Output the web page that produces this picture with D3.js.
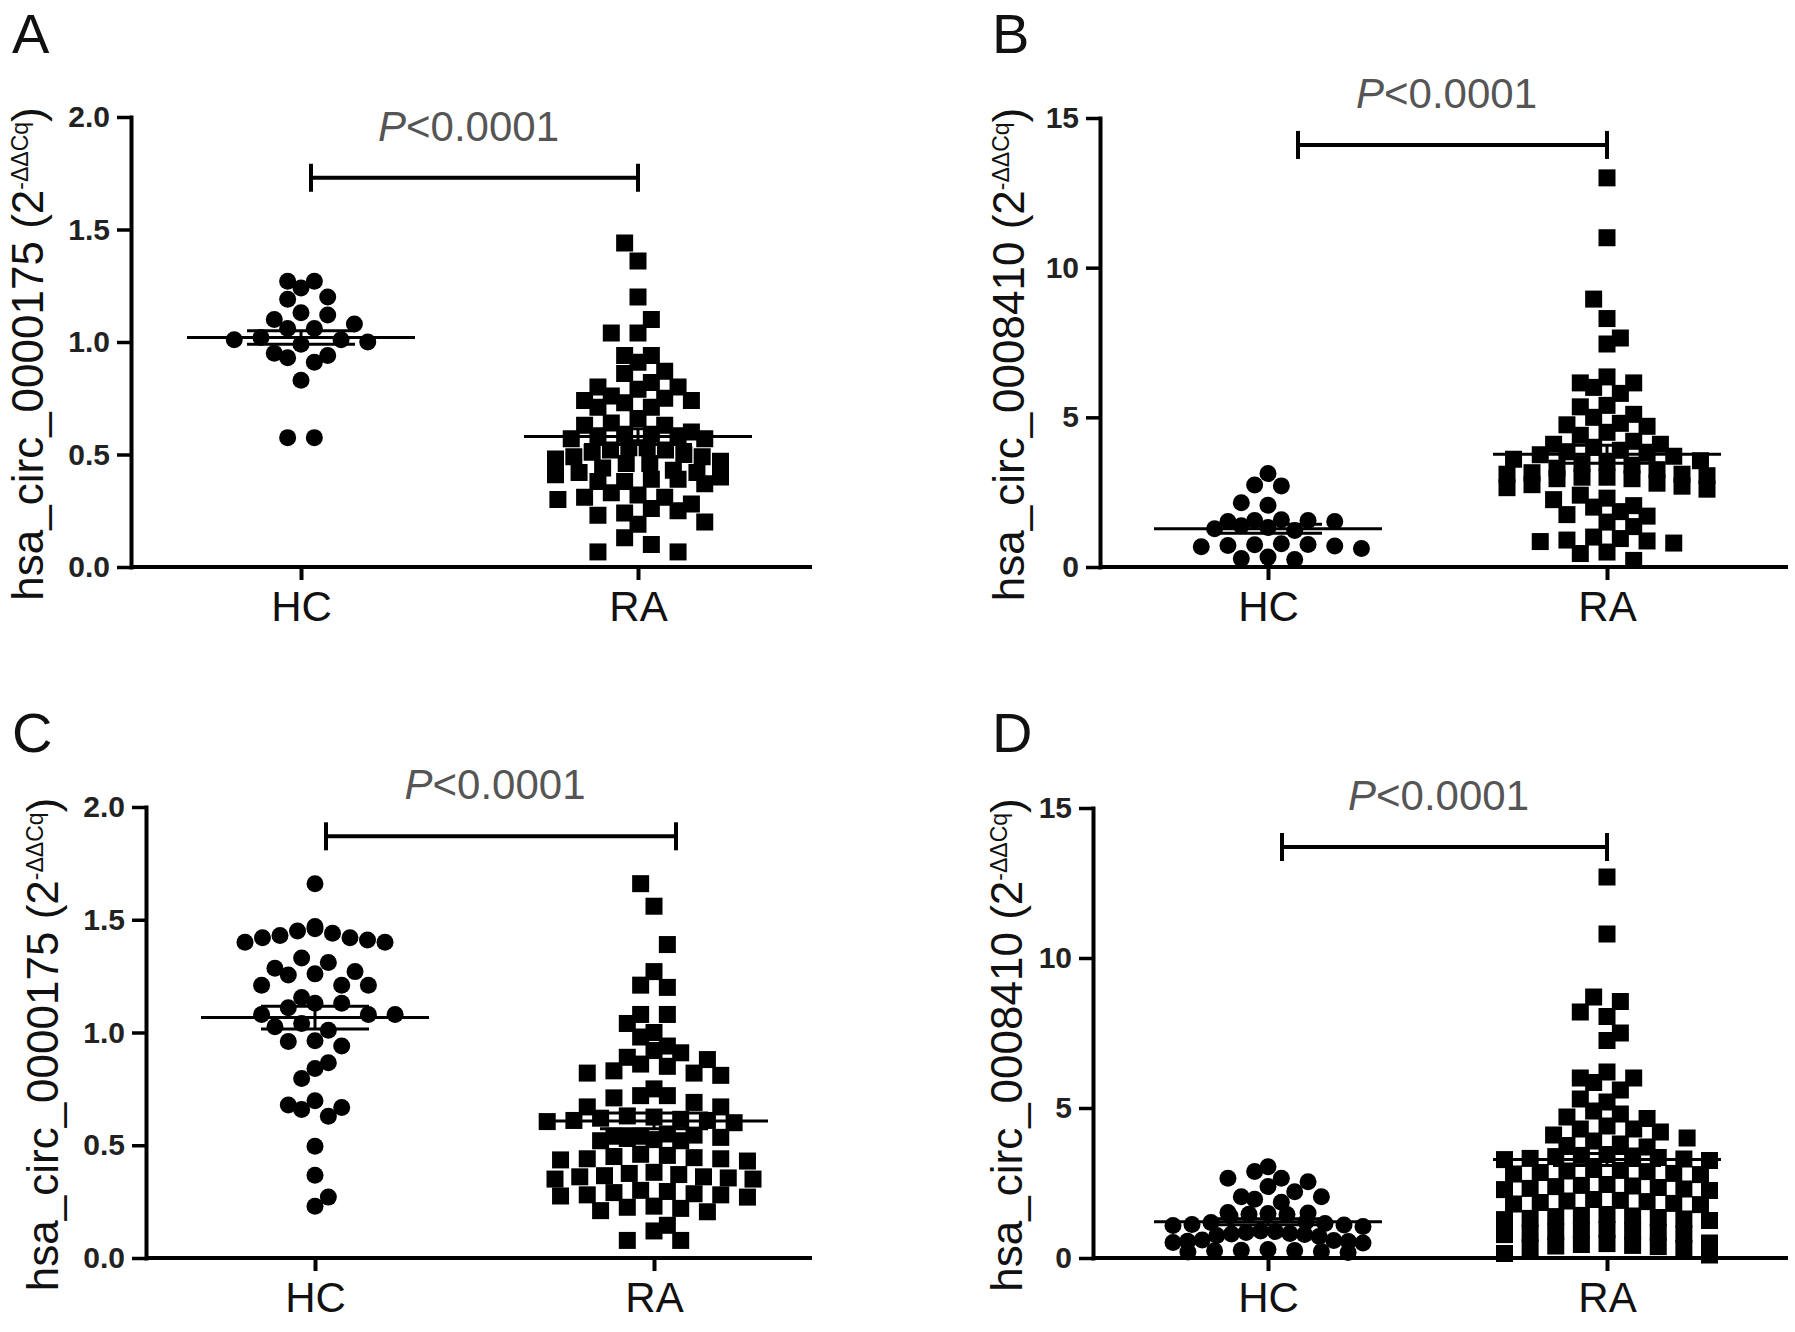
<!DOCTYPE html>
<html>
<head>
<meta charset="utf-8">
<script src="https://cdn.jsdelivr.net/npm/d3@7"></script>
<style>
  body { margin: 0; background: #fff; }
  svg { display: block; }
  text { font-family: "Liberation Sans", Arial, sans-serif; }
</style>
</head>
<body>
<svg id="chart" width="1795" height="1332"></svg>
<script>
// ---------------- data ----------------
const categories = ["HC", "RA"];
const panelLetters = ["A", "B", "C", "D"];
const yTitles = ["hsa_circ_0000175", "hsa_circ_0008410", "hsa_circ_0000175", "hsa_circ_0008410"];
const yTitleSup = "-ΔΔCq";
const pLabelItalic = "P";
const pLabelRest = "<0.0001";
const yDomains = [[0, 2], [0, 15], [0, 2], [0, 15]];
const yTicks = [[0, 0.5, 1.0, 1.5, 2.0], [0, 5, 10, 15], [0, 0.5, 1.0, 1.5, 2.0], [0, 5, 10, 15]];
const yTickFormats = [".1f", "d", ".1f", "d"];

const hcA = [1.27, 1.27, 1.24, 1.20, 1.19, 1.13, 1.12, 1.10, 1.08, 1.06, 1.06, 1.02, 1.01, 1.01, 1.00, 0.99,
  0.95, 0.94, 0.93, 0.91, 0.83, 0.575, 0.575];
const raA = [1.44, 1.36, 1.20, 1.10, 1.04, 1.04, 0.94, 0.94, 0.91, 0.87, 0.86,
  0.82, 0.80, 0.80, 0.79,
  0.76, 0.75, 0.74, 0.74, 0.73, 0.71, 0.71,
  0.66, 0.64, 0.63, 0.63,
  0.60, 0.59, 0.59, 0.58, 0.58, 0.57, 0.57,
  0.53, 0.53, 0.52, 0.52, 0.51, 0.50,
  0.49, 0.49, 0.48, 0.47, 0.46, 0.46,
  0.44, 0.43, 0.42, 0.42, 0.41,
  0.40, 0.39, 0.39, 0.38, 0.38, 0.37,
  0.33, 0.32, 0.31, 0.31, 0.30,
  0.28, 0.26, 0.25, 0.24, 0.23, 0.20, 0.19,
  0.13, 0.10, 0.067, 0.067];

const hcB = [3.12, 2.74, 2.71, 2.15, 2.06, 1.58, 1.55, 1.55, 1.52, 1.52, 1.38, 1.32, 1.28, 1.22,
  0.78, 0.75, 0.74, 0.72, 0.70, 0.68, 0.62, 0.33, 0.28, 0.25];
const raB = [13.0, 11.0, 8.95, 8.3, 7.65, 7.45, 6.35, 6.15, 6.15, 6.0, 5.8, 5.4, 5.35, 5.1, 5.0,
  4.8, 4.75, 4.7, 4.5, 4.4,
  4.2, 4.1, 4.1, 4.0,
  3.9, 3.85, 3.8, 3.75, 3.7,
  3.6, 3.55, 3.5, 3.45, 3.4,
  3.3, 3.25,
  3.15, 3.1, 3.1, 3.05, 3.0, 3.0, 2.95, 2.95,
  2.8, 2.75, 2.7, 2.65, 2.6,
  2.4, 2.3, 2.25,
  2.05, 2.0, 1.85, 1.75, 1.7,
  1.5, 1.35,
  1.0, 0.95, 0.9, 0.87, 0.85, 0.8,
  0.5, 0.45, 0.22];

const hcC = [1.66, 1.47, 1.46, 1.45, 1.44, 1.43, 1.42, 1.42, 1.41, 1.40, 1.40, 1.33, 1.31,
  1.285, 1.27, 1.26, 1.255, 1.21, 1.21, 1.21, 1.155, 1.13, 1.13, 1.11, 1.08, 1.08, 1.08,
  1.04, 1.025, 1.01, 0.963, 0.96, 0.94, 0.866, 0.84, 0.796, 0.697, 0.678, 0.667, 0.659, 0.629,
  0.496, 0.367, 0.27, 0.229];
const raC = [1.66, 1.56, 1.39, 1.27, 1.21, 1.20, 1.08, 1.08, 1.04, 1.00, 0.98, 0.94, 0.92, 0.91,
  0.89, 0.88, 0.86, 0.85, 0.83, 0.82, 0.82, 0.81, 0.75, 0.72, 0.72, 0.71, 0.69, 0.67, 0.67,
  0.63, 0.625, 0.62, 0.615, 0.61, 0.61, 0.605, 0.60,
  0.55, 0.545, 0.54, 0.54, 0.535, 0.53, 0.525, 0.52, 0.52,
  0.46, 0.455, 0.45, 0.445, 0.44, 0.44, 0.435, 0.43,
  0.38, 0.375, 0.37, 0.365, 0.36, 0.36, 0.355, 0.35, 0.35,
  0.30, 0.295, 0.29, 0.285, 0.28, 0.28, 0.275, 0.27,
  0.23, 0.225, 0.22, 0.21, 0.205,
  0.145, 0.12, 0.078, 0.078];

const hcD = [3.04, 2.88, 2.66, 2.66, 2.54, 2.38, 2.21, 2.04, 2.04, 1.96, 1.86,
  1.52, 1.50, 1.48, 1.46, 1.45, 1.40,
  1.20, 1.18, 1.15, 1.12, 1.10, 1.08, 1.05,
  0.90, 0.88, 0.85, 0.82, 0.80, 0.78, 0.75, 0.72,
  0.60, 0.58, 0.56, 0.55, 0.52, 0.50,
  0.28, 0.26, 0.25, 0.24, 0.22, 0.20, 0.18];
const raD = [12.7, 10.8, 8.7, 8.55, 8.2, 8.05, 7.5, 7.25, 6.2, 6.0, 6.0, 5.85, 5.6, 5.3, 5.2,
  4.9, 4.8, 4.7, 4.65, 4.4, 4.3, 4.3, 4.2, 4.1, 4.0, 3.9, 3.8, 3.75, 3.7,
  3.45, 3.42, 3.4, 3.38, 3.35, 3.32, 3.3, 3.28, 3.25,
  2.95, 2.92, 2.9, 2.88, 2.85, 2.82, 2.8, 2.78,
  2.45, 2.42, 2.4, 2.38, 2.35, 2.32, 2.3, 2.28, 2.25,
  1.95, 1.92, 1.9, 1.88, 1.85, 1.82, 1.8, 1.78,
  1.45, 1.42, 1.4, 1.38, 1.35, 1.32, 1.3, 1.28, 1.25,
  0.95, 0.92, 0.9, 0.88, 0.85, 0.82, 0.8, 0.78,
  0.5, 0.48, 0.45, 0.42, 0.4, 0.38, 0.35, 0.32,
  0.15, 0.1];

const hcSeries = [hcA, hcB, hcC, hcD];
const raSeries = [raA, raB, raC, raD];
const meanHC = [1.02, 1.28, 1.066, 1.21];
const meanRA = [0.58, 3.77, 0.608, 3.28];
const semHC = [0.03, 0.15, 0.05, 0.10];
const semRA = [0.035, 0.30, 0.035, 0.20];
const bracketY = [1.73, 14.1, 1.87, 13.7];

// ---------------- layout ----------------
const layout = [
  { left: 131, right: 812, top: 117, bottom: 567, hcX: 301, raX: 638, titleX: 43, letterX: 12, letterY: 53, bOff: 10, bEnd: 0, spanHC: 165, spanRA: 165 },
  { left: 1100, right: 1788, top: 118, bottom: 567, hcX: 1268, raX: 1607, titleX: 1024, letterX: 992, letterY: 53, bOff: 30, bEnd: 0, spanHC: 190, spanRA: 200 },
  { left: 146, right: 812, top: 807, bottom: 1258, hcX: 315, raX: 654, titleX: 58, letterX: 12, letterY: 752, bOff: 11, bEnd: 22, spanHC: 140, spanRA: 198 },
  { left: 1093, right: 1788, top: 808, bottom: 1258, hcX: 1268, raX: 1607, titleX: 1022, letterX: 992, letterY: 752, bOff: 14, bEnd: 0, spanHC: 190, spanRA: 205 }
];
const COLW = 26.7, MARK = 17, BIN = 15;

const svg = d3.select("#chart");

// Prism-like scatter: values are binned in rows of ~one symbol height,
// each row is spread symmetrically round the column centre; adjacent
// rows with the same parity are offset by half a step.
function swarm(values, y, cx, maxSpan) {
  const base = y.range()[0];
  const pts = values.map(v => ({ v, y: y(v) }));
  const groups = d3.groups(pts, d => Math.floor((base - d.y) / BIN)).sort((a, b) => a[0] - b[0]);
  const out = [];
  let prev = null, flip = 1;
  for (const [b, items] of groups) {
    items.sort((p, q) => q.v - p.v);
    const n = items.length;
    const step = n > 1 ? Math.min(COLW, maxSpan / (n - 1)) : COLW;
    let shift = 0;
    const natPhase = ((n - 1) / 2) % 1;
    if (prev && prev.b === b - 1 && step === COLW && prev.step === COLW && natPhase === prev.phase) {
      shift = flip * COLW / 2; flip = -flip;
    }
    const phase = (((n - 1) / 2 + shift / COLW) % 1 + 1) % 1;
    const offs = d3.range(n).map(k => (k - (n - 1) / 2) * step + shift);
    offs.sort((a, c) => Math.abs(a - shift) - Math.abs(c - shift) || a - c);
    items.forEach((p, k) => out.push({ v: p.v, x: cx + offs[k], y: p.y }));
    prev = { b, phase, step };
  }
  return out;
}

for (let i = 0; i < 4; i++) {
  const L = layout[i];
  const g = svg.append("g");
  const y = d3.scaleLinear().domain(yDomains[i]).range([L.bottom, L.top]);
  const x = d3.scalePoint().domain(categories).range([L.hcX, L.raX]);

  // y axis
  const ya = g.append("g").attr("transform", `translate(${L.left},0)`)
    .call(d3.axisLeft(y).tickValues(yTicks[i]).tickFormat(d3.format(yTickFormats[i]))
      .tickSize(14).tickSizeOuter(0).tickPadding(7));
  ya.select(".domain").attr("stroke", "#000").attr("stroke-width", 4).attr("stroke-linecap", "square");
  ya.selectAll(".tick line").attr("stroke", "#000").attr("stroke-width", 3.5);
  ya.selectAll(".tick text").attr("font-size", 30).attr("font-weight", "bold").attr("fill", "#222")
    .style("font-family", '"Liberation Sans", Arial, sans-serif');

  // x axis
  const xa = g.append("g").attr("transform", `translate(0,${L.bottom})`)
    .call(d3.axisBottom(x).tickSize(13).tickPadding(11));
  xa.select(".domain").remove();
  xa.selectAll(".tick line").attr("stroke", "#000").attr("stroke-width", 4);
  xa.selectAll(".tick text").attr("font-size", 42).attr("fill", "#111")
    .style("font-family", '"Liberation Sans", Arial, sans-serif');
  g.append("line").attr("x1", L.left).attr("x2", L.right)
    .attr("y1", L.bottom).attr("y2", L.bottom)
    .attr("stroke", "#000").attr("stroke-width", 4);

  // points
  const hcPts = swarm(hcSeries[i], y, x("HC"), L.spanHC);
  const raPts = swarm(raSeries[i], y, x("RA"), L.spanRA);
  g.append("g").selectAll("circle").data(hcPts).join("circle")
    .attr("cx", d => d.x).attr("cy", d => d.y).attr("r", MARK / 2).attr("fill", "#000");
  g.append("g").selectAll("rect").data(raPts).join("rect")
    .attr("x", d => d.x - MARK / 2).attr("y", d => d.y - MARK / 2)
    .attr("width", MARK).attr("height", MARK).attr("fill", "#000");

  // mean +/- SEM
  const stats = [
    { cat: "HC", mean: meanHC[i], sem: semHC[i] },
    { cat: "RA", mean: meanRA[i], sem: semRA[i] }
  ];
  stats.forEach(s => {
    const cx = x(s.cat);
    const ms = g.append("g").attr("stroke", "#000").attr("stroke-width", 3);
    ms.append("line").attr("x1", cx - 114).attr("x2", cx + 114)
      .attr("y1", y(s.mean)).attr("y2", y(s.mean));
    ms.append("line").attr("x1", cx).attr("x2", cx)
      .attr("y1", y(s.mean - s.sem)).attr("y2", y(s.mean + s.sem));
    [s.mean - s.sem, s.mean + s.sem].forEach(v => {
      ms.append("line").attr("x1", cx - 54).attr("x2", cx + 54)
        .attr("y1", y(v)).attr("y2", y(v));
    });
  });

  // bracket
  const by = y(bracketY[i]);
  const bx1 = x("HC") + L.bOff, bx2 = x("RA") + L.bEnd;
  const br = g.append("g").attr("stroke", "#000").attr("stroke-width", 4);
  br.append("line").attr("x1", bx1).attr("x2", bx2).attr("y1", by).attr("y2", by);
  br.append("line").attr("x1", bx1).attr("x2", bx1).attr("y1", by - 14).attr("y2", by + 14);
  br.append("line").attr("x1", bx2).attr("x2", bx2).attr("y1", by - 14).attr("y2", by + 14);

  const pt = g.append("text").attr("x", (bx1 + bx2) / 2 - 6).attr("y", by - 37)
    .attr("text-anchor", "middle").attr("font-size", 42).attr("fill", "#555");
  pt.append("tspan").attr("font-style", "italic").text(pLabelItalic);
  pt.append("tspan").text(pLabelRest);

  // y title
  const tt = g.append("text")
    .attr("transform", `translate(${L.titleX},${(L.top + L.bottom) / 2 + 12}) rotate(-90)`)
    .attr("text-anchor", "middle").attr("font-size", 44).attr("fill", "#111");
  tt.append("tspan").text(yTitles[i] + " (2");
  tt.append("tspan").attr("font-size", 23).attr("dy", -15).text(yTitleSup);
  tt.append("tspan").attr("dy", 15).text(")");

  // panel letter
  g.append("text").attr("x", L.letterX).attr("y", L.letterY)
    .attr("font-size", 56).attr("fill", "#111").text(panelLetters[i]);
}
</script>
</body>
</html>
